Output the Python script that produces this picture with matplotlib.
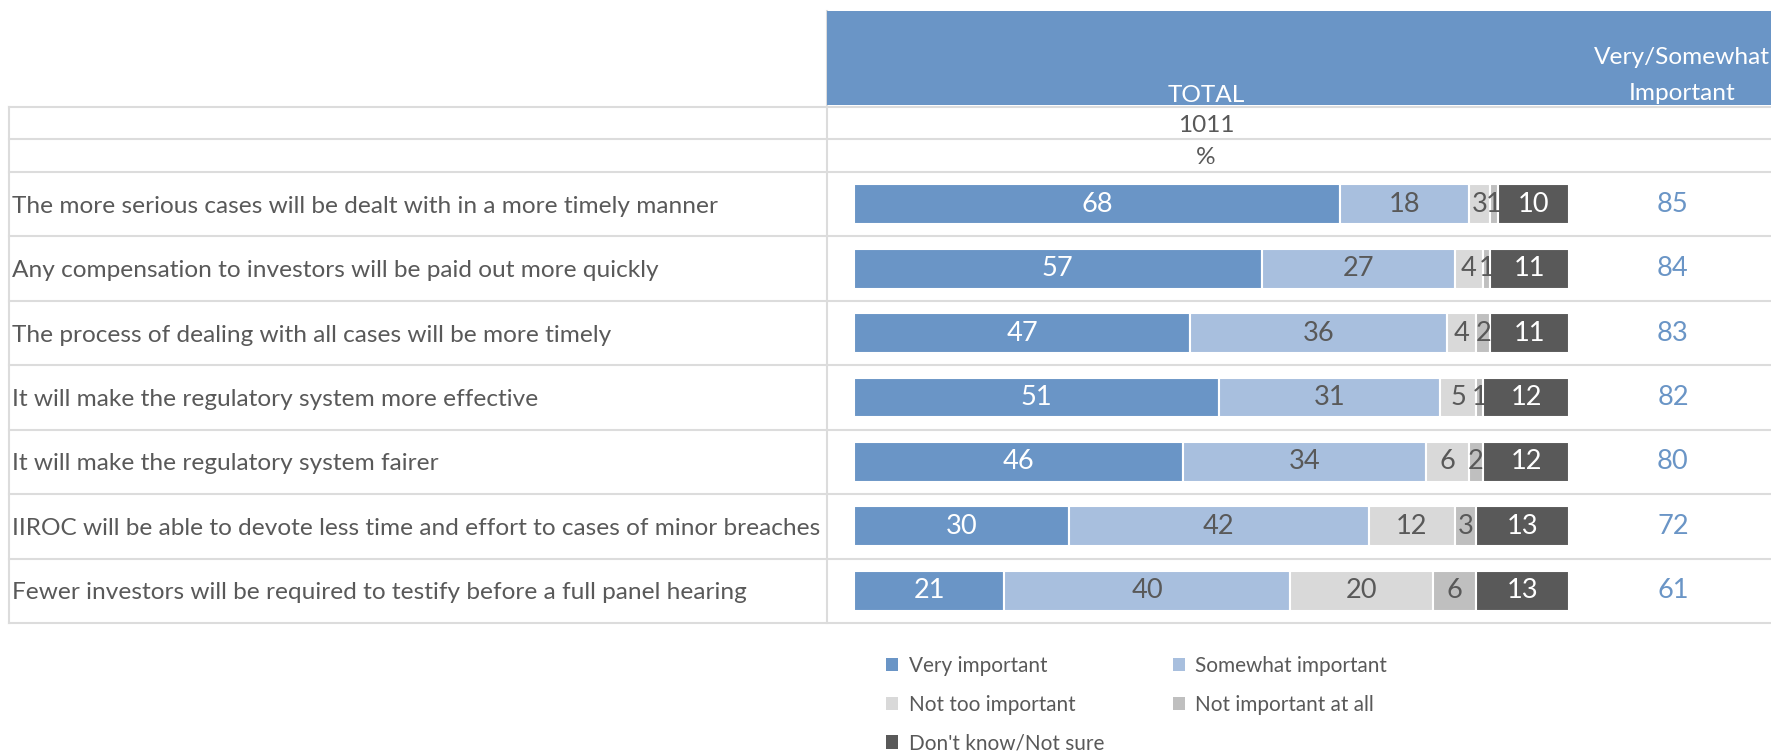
import matplotlib
matplotlib.use('Agg')
import matplotlib.pyplot as plt
from matplotlib.patches import Rectangle
from matplotlib.transforms import blended_transform_factory
import numpy as np

plt.rcParams['font.family'] = ['Lato', 'DejaVu Sans']

# ---------------- data ----------------
statements = [
    "The more serious cases will be dealt with in a more timely manner",
    "Any compensation to investors will be paid out more quickly",
    "The process of dealing with all cases will be more timely",
    "It will make the regulatory system more effective",
    "It will make the regulatory system fairer",
    "IIROC will be able to devote less time and effort to cases of minor breaches",
    "Fewer investors will be required to testify before a full panel hearing",
]
very_important = [68, 57, 47, 51, 46, 30, 21]
somewhat_important = [18, 27, 36, 31, 34, 42, 40]
not_too_important = [3, 4, 4, 5, 6, 12, 20]
not_important_at_all = [1, 1, 2, 1, 2, 3, 6]
dont_know = [10, 11, 11, 12, 12, 13, 13]
net_important = [85, 84, 83, 82, 80, 72, 61]
series_names = ["Very important", "Somewhat important", "Not too important",
                "Not important at all", "Don't know/Not sure"]
base_n = "1011"
unit_row = "%"
header_total = "TOTAL"
header_net = "Very/Somewhat\nImportant"

# ---------------- style ----------------
colors = ["#6A95C6", "#A8BFDE", "#D9D9D9", "#BFBFBF", "#595959"]
text_colors = ["white", "#595959", "#595959", "#595959", "white"]
grey = "#595959"
grid_c = "#DCDCDC"
net_c = "#6A95C6"

W, H = 1771, 754
fig = plt.figure(figsize=(W / 100, H / 100), dpi=100)
bg = fig.add_axes([0, 0, 1, 1])
bg.set_xlim(0, W)
bg.set_ylim(H, 0)
bg.axis('off')

# fit font size so the longest label spans its width in the reference
r = fig.canvas.get_renderer()
t = fig.text(0, 0, statements[5], fontsize=10)
fs = 10 * 806 / t.get_window_extent(r).width
t.remove()
fs_num = fs * 1.12

# bar axes
n = len(statements)
ax = fig.add_axes([854 / W, 1 - 623 / H, 715 / W, 451 / H])
ax.set_xlim(0, 100)
ax.set_ylim(n - 0.5, -0.5)
ax.axis('off')
y = np.arange(n)
left = np.zeros(n)
series = [very_important, somewhat_important, not_too_important,
          not_important_at_all, dont_know]
handles = []
for vals, col, tc, name in zip(series, colors, text_colors, series_names):
    vals = np.array(vals, dtype=float)
    bars = ax.barh(y, vals, left=left, height=0.62, color=col,
                   edgecolor='white', linewidth=1.5, label=name, zorder=3)
    ax.bar_label(bars, labels=[f"{int(v)}" for v in vals], label_type='center',
                 color=tc, fontsize=fs_num, zorder=4)
    handles.append(bars)
    left += vals

tr = blended_transform_factory(bg.transData, ax.transData)

# table lines
lw = 1.5
for i in range(n + 1):
    bg.plot([9, W], [i - 0.5, i - 0.5], transform=tr, color=grid_c, lw=lw, zorder=1)
for yy in [107, 139]:
    bg.plot([9, W], [yy, yy], color=grid_c, lw=lw, zorder=1)
bottom_y = ax.transData.transform((0, n - 0.5))[1]
bg.plot([9, 9], [107, H - bottom_y], color=grid_c, lw=lw, zorder=1)
bg.plot([827, 827], [11, H - bottom_y], color=grid_c, lw=lw, zorder=1)

# header
bg.add_patch(Rectangle((827, 11), W - 827, 94, facecolor="#6A95C6", edgecolor='none', zorder=2))
bg.text(1206, 95, header_total, color='white', fontsize=fs, ha='center', va='center', zorder=3)
for k, line in enumerate(header_net.split("\n")):
    bg.text(1682, 57 + 36 * k, line, color='white', fontsize=fs, ha='center', va='center', zorder=3)
bg.text(1206, 125, base_n, color=grey, fontsize=fs, ha='center', va='center')
bg.text(1206, 157, unit_row, color=grey, fontsize=fs, ha='center', va='center')

# row labels and net values
for i, (s, v) in enumerate(zip(statements, net_important)):
    ax.text(12, i + 0.03, s, transform=tr, color=grey, fontsize=fs, ha='left', va='center')
    ax.text(1673, i, f"{v}", transform=tr, color=net_c, fontsize=fs_num, ha='center', va='center')

# legend (row-major order in reference -> column-major handles)
order = [0, 2, 4, 1, 3]
leg = fig.legend([handles[k] for k in order], [series_names[k] for k in order],
                 ncol=2, loc='upper left', bbox_to_anchor=(886 / W, 1 - 656 / H),
                 frameon=False, fontsize=fs * 0.85, handlelength=0.6, handleheight=0.6,
                 handletextpad=0.5, columnspacing=3.3, labelspacing=0.9,
                 borderpad=0, borderaxespad=0)
for txt in leg.get_texts():
    txt.set_color(grey)
for h in leg.legend_handles:
    h.set_edgecolor('none')

fig.savefig('out.png', dpi=100, facecolor='white')
